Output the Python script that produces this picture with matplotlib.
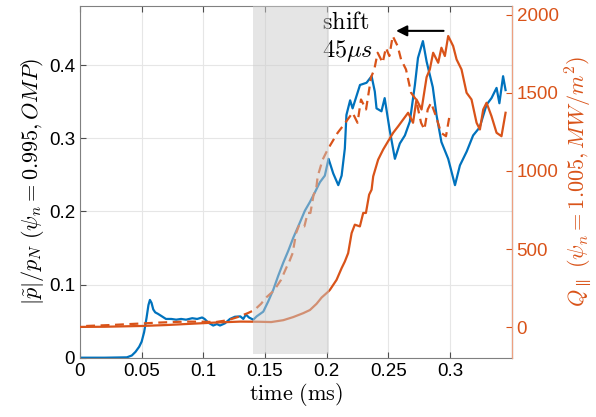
import matplotlib
matplotlib.use('Agg')
from matplotlib import pyplot as plt
import numpy as np

# |p~|/p_N at psi_n = 0.995 (left axis)
t_p = [0, 0.02, 0.038, 0.042, 0.045, 0.048, 0.050, 0.052, 0.054, 0.0555, 0.0567, 0.058, 0.0594,
       0.061, 0.0632, 0.066, 0.0697, 0.074, 0.078, 0.082, 0.086, 0.091, 0.095, 0.099, 0.101, 0.104,
       0.108, 0.111, 0.1135, 0.1175, 0.1216, 0.1256, 0.130, 0.1324, 0.1345, 0.137, 0.1405, 0.1432,
       0.1486, 0.1526, 0.1567, 0.1607, 0.1648, 0.1688, 0.1729, 0.1783, 0.1823, 0.1864, 0.1904,
       0.1945, 0.1985, 0.2015, 0.2053, 0.2094, 0.2121, 0.2147, 0.216, 0.219, 0.221, 0.227, 0.2323,
       0.2364, 0.239, 0.2404, 0.2444, 0.247, 0.251, 0.2553, 0.2593, 0.2634, 0.2674, 0.2715, 0.274,
       0.278, 0.281, 0.286, 0.289, 0.293, 0.2985, 0.304, 0.308, 0.3135, 0.3187, 0.324, 0.3296,
       0.3336, 0.3377, 0.340, 0.343, 0.345]
p_amp = [0, 0, 0.0005, 0.003, 0.008, 0.015, 0.022, 0.035, 0.055, 0.072, 0.079, 0.075, 0.066,
         0.062, 0.060, 0.057, 0.053, 0.053, 0.052, 0.053, 0.052, 0.054, 0.053, 0.055, 0.053, 0.048,
         0.044, 0.046, 0.044, 0.047, 0.053, 0.056, 0.0565, 0.053, 0.059, 0.055, 0.052, 0.0565,
         0.063, 0.077, 0.093, 0.112, 0.130, 0.146, 0.164, 0.185, 0.201, 0.213, 0.226,
         0.240, 0.249, 0.272, 0.252, 0.236, 0.249, 0.286, 0.332, 0.352, 0.341, 0.373, 0.376,
         0.385, 0.364, 0.341, 0.337, 0.355, 0.312, 0.272, 0.293, 0.304, 0.323, 0.373, 0.410,
         0.433, 0.405, 0.370, 0.332, 0.295, 0.272, 0.236, 0.263, 0.282, 0.304, 0.315, 0.346,
         0.355, 0.369, 0.348, 0.385, 0.366]

# Q_par at psi_n = 1.005 (right axis), MW/m^2
t_q = [0, 0.02, 0.05, 0.07, 0.09, 0.11, 0.13, 0.145, 0.155, 0.1648, 0.1729, 0.181, 0.1864,
       0.1918, 0.1959, 0.2013, 0.2026, 0.208, 0.2121, 0.2147, 0.2174, 0.2202, 0.2228, 0.2269,
       0.2296, 0.2318, 0.2344, 0.2364, 0.2377, 0.2417, 0.2458, 0.2498, 0.2539, 0.258, 0.262,
       0.266, 0.270, 0.2728, 0.2769, 0.281, 0.2836, 0.2863, 0.2904, 0.293, 0.2958, 0.2985,
       0.3025, 0.3053, 0.3093, 0.3134, 0.3174, 0.3215, 0.3242, 0.3269, 0.3296, 0.3336, 0.3377,
       0.3417, 0.345]
q_par = [2, 3, 8, 14, 22, 30, 36, 35, 33, 45, 65, 90, 110,
         150, 190, 228, 239, 303, 378, 420, 474, 602, 656, 645,
         731, 731, 848, 880, 965, 1072, 1137, 1190, 1244, 1286, 1329,
         1372, 1308, 1457, 1393, 1600, 1649, 1756, 1692, 1788, 1735, 1863,
         1799, 1713, 1649, 1500, 1457, 1308, 1265, 1393, 1436, 1350, 1244,
         1222, 1372]
shift = 0.045  # ms

blue = '#0072BD'
orange = '#D95319'

plt.rcParams['mathtext.fontset'] = 'cm'
plt.rcParams['font.family'] = 'Liberation Sans'

fig = plt.figure(figsize=(5.96, 4.17), dpi=100)
ax = fig.add_axes([0.1342, 0.1422, 0.7244, 0.8434])
ax2 = ax.twinx()

ax.plot(t_p, p_amp, color=blue, lw=1.6)

tq = np.array(t_q)
qd = np.array(q_par)
keep = tq - shift >= 0
ax2.plot(tq, qd, color=orange, lw=1.6)
ax2.plot(tq[keep] - shift, qd[keep], color=orange, lw=1.6, ls='--', dashes=(4, 2.5))
ax2.fill_between([0.14, 0.202], -171, 2500, color='0.8', alpha=0.5, lw=0, zorder=5)

ax.set_xlim(0, 0.35)
ax.set_ylim(0, 0.481)
ax2.set_ylim(-195, 2055)
ax.set_xticks([0, 0.05, 0.1, 0.15, 0.2, 0.25, 0.3])
ax.set_xticklabels(['0', '0.05', '0.1', '0.15', '0.2', '0.25', '0.3'])
ax.set_yticks([0, 0.1, 0.2, 0.3, 0.4])
ax.set_yticklabels(['0', '0.1', '0.2', '0.3', '0.4'])
ax2.set_yticks([0, 500, 1000, 1500, 2000])
ax.grid(True, color='#E6E6E6', lw=0.8)
ax.set_axisbelow(True)

ax.tick_params(direction='in', labelsize=13.5, color='#4D4D4D', top=True, right=False, length=4)
ax2.tick_params(direction='in', labelsize=13.5, colors=orange, length=4)
for s in ['left', 'bottom', 'top']:
    ax.spines[s].set_color('#808080')
ax2.spines['right'].set_color('#EEA080')
for s in ['left', 'bottom', 'top']:
    ax2.spines[s].set_visible(False)

ax.set_xlabel(r'$\mathrm{time\ (ms)}$', fontsize=16, labelpad=1)
ax.set_ylabel(r'$|\tilde{p}|/p_N\ (\psi_n=0.995, OMP)$', fontsize=16, labelpad=2)
ax2.set_ylabel(r'$Q_\parallel\ (\psi_n=1.005, MW/m^2)$', fontsize=16, color=orange, labelpad=4)

ax.text(0.196, 0.458, r'$\mathrm{shift}$', fontsize=17.5, va='center', ha='left')
ax.text(0.196, 0.42, r'$45\mu s$', fontsize=17.5, va='center', ha='left')
ax.annotate('', xy=(0.254, 0.447), xytext=(0.297, 0.447),
            arrowprops=dict(arrowstyle='-|>', color='black', lw=1.5, mutation_scale=16))

fig.savefig('out.png', dpi=100)
